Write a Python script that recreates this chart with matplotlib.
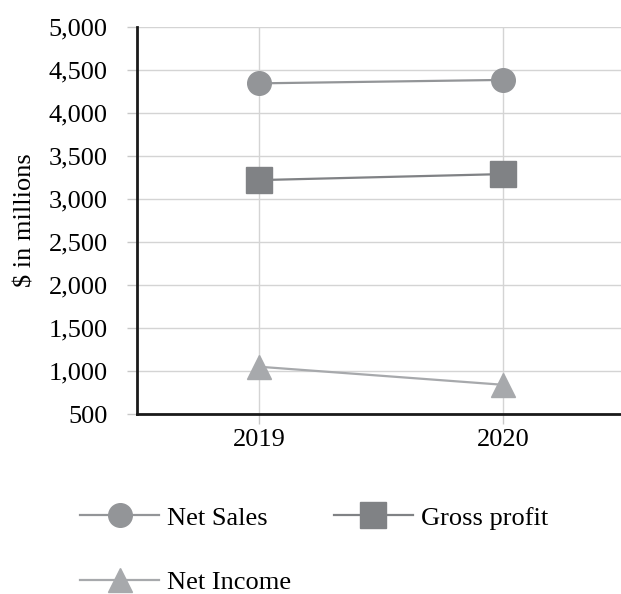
import matplotlib
matplotlib.use("Agg")
import matplotlib.pyplot as plt
from matplotlib.ticker import FuncFormatter

years = ["2019", "2020"]
net_sales = [4345, 4385]
gross_profit = [3220, 3290]
net_income = [1050, 840]
y_ticks = [500, 1000, 1500, 2000, 2500, 3000, 3500, 4000, 4500, 5000]

plt.rcParams["font.family"] = ["Liberation Serif", "DejaVu Serif"]
FS = 19

fig = plt.figure(figsize=(6.21, 5.94), dpi=100)
ax = fig.add_axes([0.2206, 0.303, 0.7858, 0.6515])

x = range(len(years))
l_sales, = ax.plot(x, net_sales, color="#939598", lw=1.6, marker="o", ms=17,
                   label="Net Sales", zorder=3)
l_gross, = ax.plot(x, gross_profit, color="#808285", lw=1.6, marker="s", ms=19,
                   label="Gross profit", zorder=3)
l_income, = ax.plot(x, net_income, color="#a7a9ac", lw=1.6, marker="^", ms=17,
                    label="Net Income", zorder=3)

ax.set_xlim(-0.5, 1.5)
ax.set_ylim(500, 5000)
ax.set_xticks(list(x))
ax.set_xticklabels(years)
ax.set_yticks(y_ticks)
ax.yaxis.set_major_formatter(FuncFormatter(lambda v, p: f"{int(v):,}"))

ax.grid(True, color="#d4d4d4", lw=1)
ax.set_axisbelow(True)
for s in ["top", "right"]:
    ax.spines[s].set_visible(False)
for s in ["left", "bottom"]:
    ax.spines[s].set_color("#1a1a1a")
    ax.spines[s].set_linewidth(2)
    ax.spines[s].set_zorder(4)

ax.tick_params(axis="y", length=7, width=1, color="#c8c8c8", pad=14, labelsize=FS)
ax.tick_params(axis="x", length=7, width=1, color="#c8c8c8", pad=4, labelsize=FS)
ax.set_ylabel("$ in millions", fontsize=FS, labelpad=9)

# column-wise fill: first column Net Sales / Net Income, second Gross profit
fig.legend([l_sales, l_income, l_gross],
           ["Net Sales", "Net Income", "Gross profit"],
           loc="upper left", bbox_to_anchor=(0.129, 0.148),
           ncol=2, frameon=False, fontsize=FS, handlelength=3.0,
           handletextpad=0.3, columnspacing=1.6, labelspacing=1.56,
           borderpad=0, borderaxespad=0)

fig.savefig("out.png", dpi=100)
